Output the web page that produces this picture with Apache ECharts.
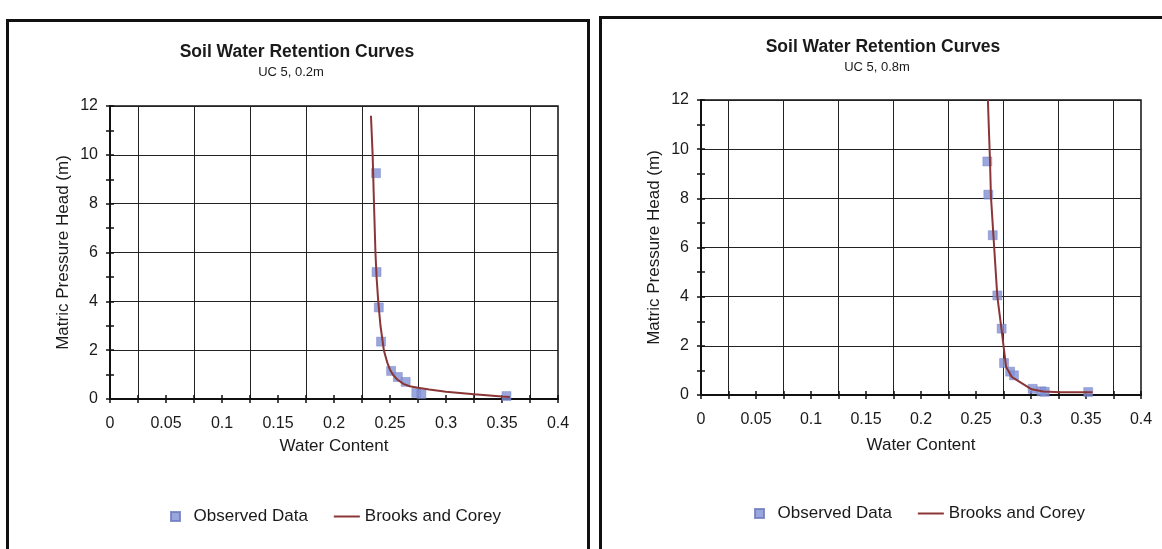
<!DOCTYPE html>
<html><head><meta charset="utf-8">
<script src="https://cdn.jsdelivr.net/npm/echarts@6/dist/echarts.min.js"></script>
<style>html,body{margin:0;padding:0;background:#fff}#c{width:1162px;height:549px}</style>
</head><body><div id="c"></div>
<script>
// ---- data ----
const chartTitles = ['Soil Water Retention Curves', 'Soil Water Retention Curves'];
const chartSubtitles = ['UC 5, 0.2m', 'UC 5, 0.8m'];
const xAxisName = 'Water Content';
const yAxisName = 'Matric Pressure Head (m)';
const seriesNames = ['Observed Data', 'Brooks and Corey'];
const xRange = [0, 0.4];
const xStep = 0.05;
const yRange = [0, 12];
const yStep = 2;

// left chart (0.2m)
const leftObsTheta = [0.2375, 0.238, 0.240, 0.242, 0.251, 0.257, 0.264, 0.2735, 0.278, 0.354];
const leftObsHead  = [9.25, 5.2, 3.75, 2.35, 1.15, 0.9, 0.7, 0.25, 0.2, 0.12];
const leftFitTheta = [0.233, 0.2345, 0.2357, 0.237, 0.238, 0.2395, 0.2415, 0.2445, 0.2475, 0.250, 0.2525, 0.2565, 0.262, 0.2675, 0.275, 0.285, 0.300, 0.325, 0.350, 0.357];
const leftFitHead  = [11.6, 10, 8, 6, 5, 4, 3, 2, 1.5, 1.2, 1.0, 0.8, 0.62, 0.52, 0.46, 0.39, 0.3, 0.19, 0.1, 0.08];

// right chart (0.8m)
const rightObsTheta = [0.2603, 0.2612, 0.2652, 0.2694, 0.2733, 0.2755, 0.281, 0.2845, 0.3015, 0.3095, 0.3125, 0.352];
const rightObsHead  = [9.5, 8.15, 6.5, 4.05, 2.7, 1.3, 0.95, 0.8, 0.25, 0.15, 0.13, 0.12];
const rightFitTheta = [0.2608, 0.2627, 0.2636, 0.2658, 0.2694, 0.2733, 0.2755, 0.2773, 0.2824, 0.3006, 0.3112, 0.3264, 0.3506, 0.356];
const rightFitHead  = [12, 9.56, 8.07, 6.51, 4.0, 2.64, 1.83, 1.15, 0.74, 0.23, 0.14, 0.11, 0.11, 0.11];

// ---- build ----
const FONT = '"Liberation Sans", Arial, sans-serif';
const INK = '#1a1a1a';
const zip = (a, b) => a.map((v, i) => [v, b[i]]);

const grids = [
  { left: 110, top: 106, width: 448, height: 293 },
  { left: 701, top: 100, width: 440, height: 295 }
];
const xNameGap = [39, 42];

function xAxes(g) {
  const base = { gridIndex: g, type: 'value', min: xRange[0], max: xRange[1], interval: xStep, position: 'bottom' };
  return [
    Object.assign({}, base, {
      name: xAxisName, nameLocation: 'middle', nameGap: xNameGap[g],
      nameTextStyle: { fontSize: 17, color: INK, fontFamily: FONT },
      axisLine: { show: true, onZero: false, lineStyle: { color: '#111', width: 2 } },
      axisTick: { show: true, length: 4, lineStyle: { color: '#111', width: 1.5 } },
      minorTick: { show: true, splitNumber: 2, length: 4, lineStyle: { color: '#111', width: 1.5 } },
      axisLabel: { fontSize: 16, color: INK, margin: 17, fontFamily: FONT },
      splitLine: { show: false },
      minorSplitLine: { show: true, lineStyle: { color: '#222', width: 1 } }
    }),
    Object.assign({}, base, {
      axisLine: { show: false, onZero: false },
      axisTick: { show: true, inside: true, length: 4, lineStyle: { color: '#111', width: 1.5 } },
      minorTick: { show: true, splitNumber: 2, length: 4, lineStyle: { color: '#111', width: 1.5 } },
      axisLabel: { show: false },
      splitLine: { show: false }
    })
  ];
}
function yAxes(g) {
  const base = { gridIndex: g, type: 'value', min: yRange[0], max: yRange[1], interval: yStep, position: 'left' };
  return [
    Object.assign({}, base, {
      name: yAxisName, nameLocation: 'middle', nameGap: 38,
      nameTextStyle: { fontSize: 17, color: INK, fontFamily: FONT },
      axisLine: { show: true, onZero: false, lineStyle: { color: '#111', width: 2 } },
      axisTick: { show: true, length: 4, lineStyle: { color: '#111', width: 1.5 } },
      minorTick: { show: true, splitNumber: 2, length: 4, lineStyle: { color: '#111', width: 1.5 } },
      axisLabel: { fontSize: 16, color: INK, margin: 12, fontFamily: FONT },
      splitLine: { show: true, lineStyle: { color: '#222', width: 1 } }
    }),
    Object.assign({}, base, {
      axisLine: { show: false, onZero: false },
      axisTick: { show: true, inside: true, length: 4, lineStyle: { color: '#111', width: 1.5 } },
      minorTick: { show: true, splitNumber: 2, length: 4, lineStyle: { color: '#111', width: 1.5 } },
      axisLabel: { show: false },
      splitLine: { show: false }
    })
  ];
}

const obsStyle = { color: '#8191d6', borderColor: '#6b78bb', borderWidth: 0.5 };
const fitStyle = { color: '#8b3636', width: 2 };

function seriesFor(g, obsT, obsH, fitT, fitH) {
  return [
    { name: seriesNames[0], type: 'scatter', xAxisIndex: g * 2, yAxisIndex: g * 2,
      symbol: 'rect', symbolSize: 9, itemStyle: obsStyle, data: zip(obsT, obsH), z: 3 },
    { name: seriesNames[1], type: 'line', xAxisIndex: g * 2, yAxisIndex: g * 2,
      symbol: 'none', showSymbol: false, lineStyle: fitStyle, itemStyle: { color: fitStyle.color },
      data: zip(fitT, fitH), z: 4, animation: false }
  ];
}

const legendBase = {
  orient: 'horizontal', itemWidth: 26, itemHeight: 9, itemGap: 26, symbolKeepAspect: true,
  textStyle: { fontSize: 17, color: INK, fontFamily: FONT },
  data: [
    { name: seriesNames[0], icon: 'path://M0 0H10V10H0Z' },
    { name: seriesNames[1], icon: 'path://M0 0H26V2H0Z', itemStyle: { color: fitStyle.color } }
  ]
};

const option = {
  animation: false,
  backgroundColor: '#fff',
  title: [
    { text: chartTitles[0], left: 292, top: 38, textAlign: 'center', textStyle: { fontSize: 17.5, fontWeight: 'bold', color: INK, fontFamily: FONT } },
    { text: chartSubtitles[0], left: 286, top: 61, textAlign: 'center', textStyle: { fontSize: 13, fontWeight: 'normal', color: INK, fontFamily: FONT } },
    { text: chartTitles[1], left: 878, top: 33, textAlign: 'center', textStyle: { fontSize: 17.5, fontWeight: 'bold', color: INK, fontFamily: FONT } },
    { text: chartSubtitles[1], left: 872, top: 56, textAlign: 'center', textStyle: { fontSize: 13, fontWeight: 'normal', color: INK, fontFamily: FONT } }
  ],
  legend: [
    Object.assign({}, legendBase, { left: 165, top: 503 }),
    Object.assign({}, legendBase, { left: 749, top: 500 })
  ],
  grid: grids.map(g => Object.assign({ show: true, borderColor: '#111', borderWidth: 1.5, backgroundColor: 'transparent' }, g)),
  xAxis: xAxes(0).concat(xAxes(1)),
  yAxis: yAxes(0).concat(yAxes(1)),
  series: seriesFor(0, leftObsTheta, leftObsHead, leftFitTheta, leftFitHead)
    .concat(seriesFor(1, rightObsTheta, rightObsHead, rightFitTheta, rightFitHead)),
  graphic: [
    { type: 'rect', shape: { x: 7.5, y: 20.5, width: 581, height: 560 }, style: { fill: 'none', stroke: '#111', lineWidth: 3 }, silent: true },
    { type: 'rect', shape: { x: 600.5, y: 17.5, width: 600, height: 560 }, style: { fill: 'none', stroke: '#111', lineWidth: 3 }, silent: true }
  ]
};

const chart = echarts.init(document.getElementById('c'), null, { renderer: 'canvas' });
chart.setOption(option);
</script>
</body></html>
